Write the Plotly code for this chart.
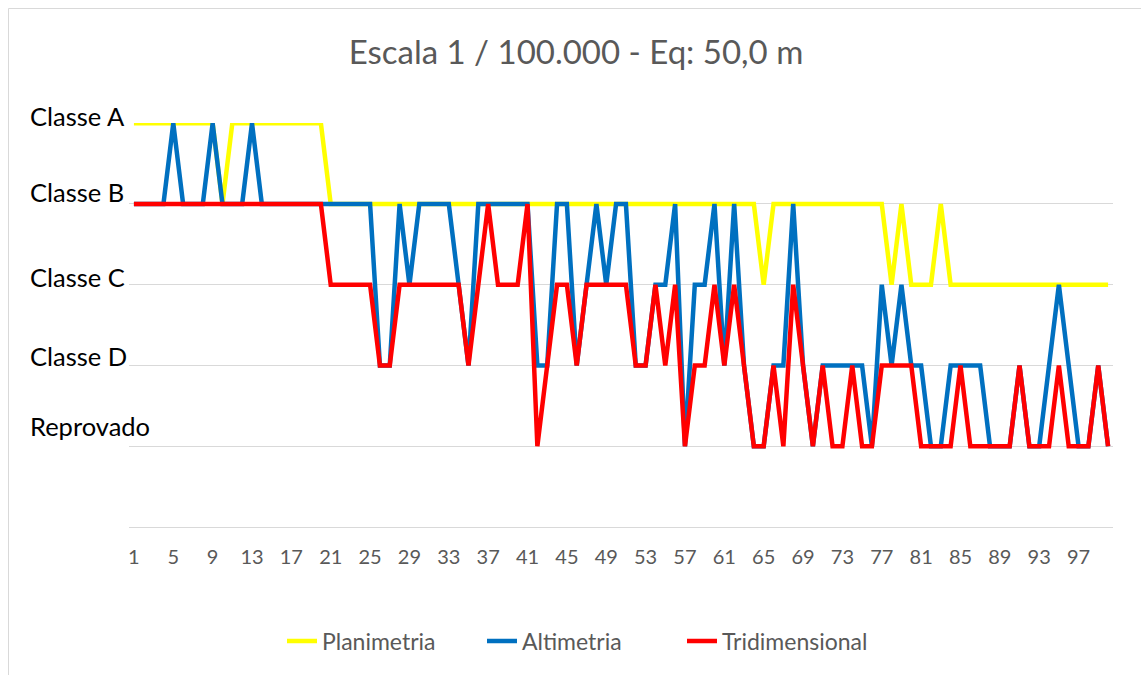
import plotly.graph_objects as go

categories = list(range(1, 101))
tick_labels = [str(v) for v in range(1, 101, 4)]
class_labels = ["Classe A", "Classe B", "Classe C", "Classe D", "Reprovado"]

planimetria = (
    [5] * 9 + [4] + [5] * 10 + [4] * 44 + [3] + [4] * 12 + [3] + [4] + [3] * 3 + [4] + [3] * 17
)
altimetria = (
    [4, 4, 4, 4, 5, 4, 4, 4, 5, 4, 4, 4, 5]
    + [4] * 12
    + [2, 2, 4, 3, 4, 4, 4, 4, 3, 2]
    + [4] * 6
    + [2, 2, 4, 4, 2, 3, 4, 3, 4, 4, 2, 2, 3, 3, 4, 1, 3, 3, 4, 2, 4, 2, 1, 1, 2, 2, 4, 2, 1]
    + [2] * 5
    + [1, 3, 2, 3, 2, 2, 1, 1, 2, 2, 2, 2, 1, 1, 1, 2, 1, 1, 2, 3, 2, 1, 1, 2, 1]
)
tridimensional = (
    [4] * 20
    + [3] * 5
    + [2, 2]
    + [3] * 7
    + [2, 3, 4, 3, 3, 3, 4, 1, 2, 3, 3, 2, 3, 3, 3, 3, 3, 2, 2, 3, 2, 3, 1, 2, 2, 3, 2, 3, 2, 1, 1, 2, 1, 3]
    + [2, 1, 2, 1, 1, 2, 1, 1, 2, 2, 2, 2, 1, 1, 1, 1, 2, 1, 1, 1, 1, 1, 2, 1, 1, 1, 2, 1, 1, 1, 2, 1]
)

series = [
    ("Planimetria", planimetria, "#FFFF00"),
    ("Altimetria", altimetria, "#0070C0"),
    ("Tridimensional", tridimensional, "#FF0000"),
]

fig = go.Figure()
for name, vals, color in series:
    fig.add_trace(go.Scatter(
        x=categories, y=vals, name=name, mode="lines",
        line=dict(color=color, width=4.5),
    ))

FONT = "Lato, Carlito, Calibri, sans-serif"
W, H = 1141, 675
L, T = 129, 123
R = W - 1113
B = H - 527
pw, ph = W - L - R, H - T - B

def px_x(p):
    return (p - L) / pw

def px_y(p):
    return (H - B - p) / ph

label_centers = [118, 194, 279, 358, 428]
for lab, cy in zip(class_labels, label_centers):
    fig.add_annotation(
        x=px_x(28), xref="paper", y=px_y(cy - 2), yref="paper",
        text=lab, showarrow=False, xanchor="left", yanchor="middle",
        font=dict(family=FONT, size=25.5, color="#000000"),
    )

fig.add_shape(
    type="rect", xref="paper", yref="paper",
    x0=px_x(8.5), x1=px_x(1200), y0=px_y(720), y1=px_y(8.5),
    line=dict(color="#D9D9D9", width=1), fillcolor="rgba(0,0,0,0)", layer="below",
)

fig.update_layout(
    width=W, height=H, autosize=False,
    margin=dict(l=L, r=R, t=T, b=B),
    paper_bgcolor="white", plot_bgcolor="white",
    title=dict(
        text="Escala 1 / 100.000 - Eq: 50,0 m",
        x=px_x(576), xref="paper", xanchor="center",
        y=1 - 52 / H, yanchor="middle",
        font=dict(family=FONT, size=33, color="#595959"),
    ),
    showlegend=True,
    legend=dict(
        orientation="h", x=px_x(582), xanchor="center", y=px_y(641), yanchor="middle",
        font=dict(family=FONT, size=23, color="#595959"),
        entrywidth=155, entrywidthmode="pixels",
    ),
    xaxis=dict(
        range=[0.5, 100.5], tickmode="array",
        tickvals=list(range(1, 101, 4)), ticktext=tick_labels,
        showgrid=False, zeroline=False, showline=False, ticks="",
        ticklabelstandoff=16,
        tickfont=dict(family=FONT, size=20, color="#595959"),
    ),
    yaxis=dict(
        range=[0, 5.003], tickvals=[1, 2, 3, 4, 5], showticklabels=False,
        showgrid=True, gridcolor="#D9D9D9", gridwidth=1,
        zeroline=True, zerolinecolor="#D9D9D9", zerolinewidth=1,
        showline=False, ticks="",
    ),
)

fig.write_html(
    "out.html",
    config={"displayModeBar": False},
    post_script=(
        "document.body.style.margin='0';"
        "document.documentElement.style.overflow='hidden';"
        "document.body.style.overflow='hidden';"
    ),
)
